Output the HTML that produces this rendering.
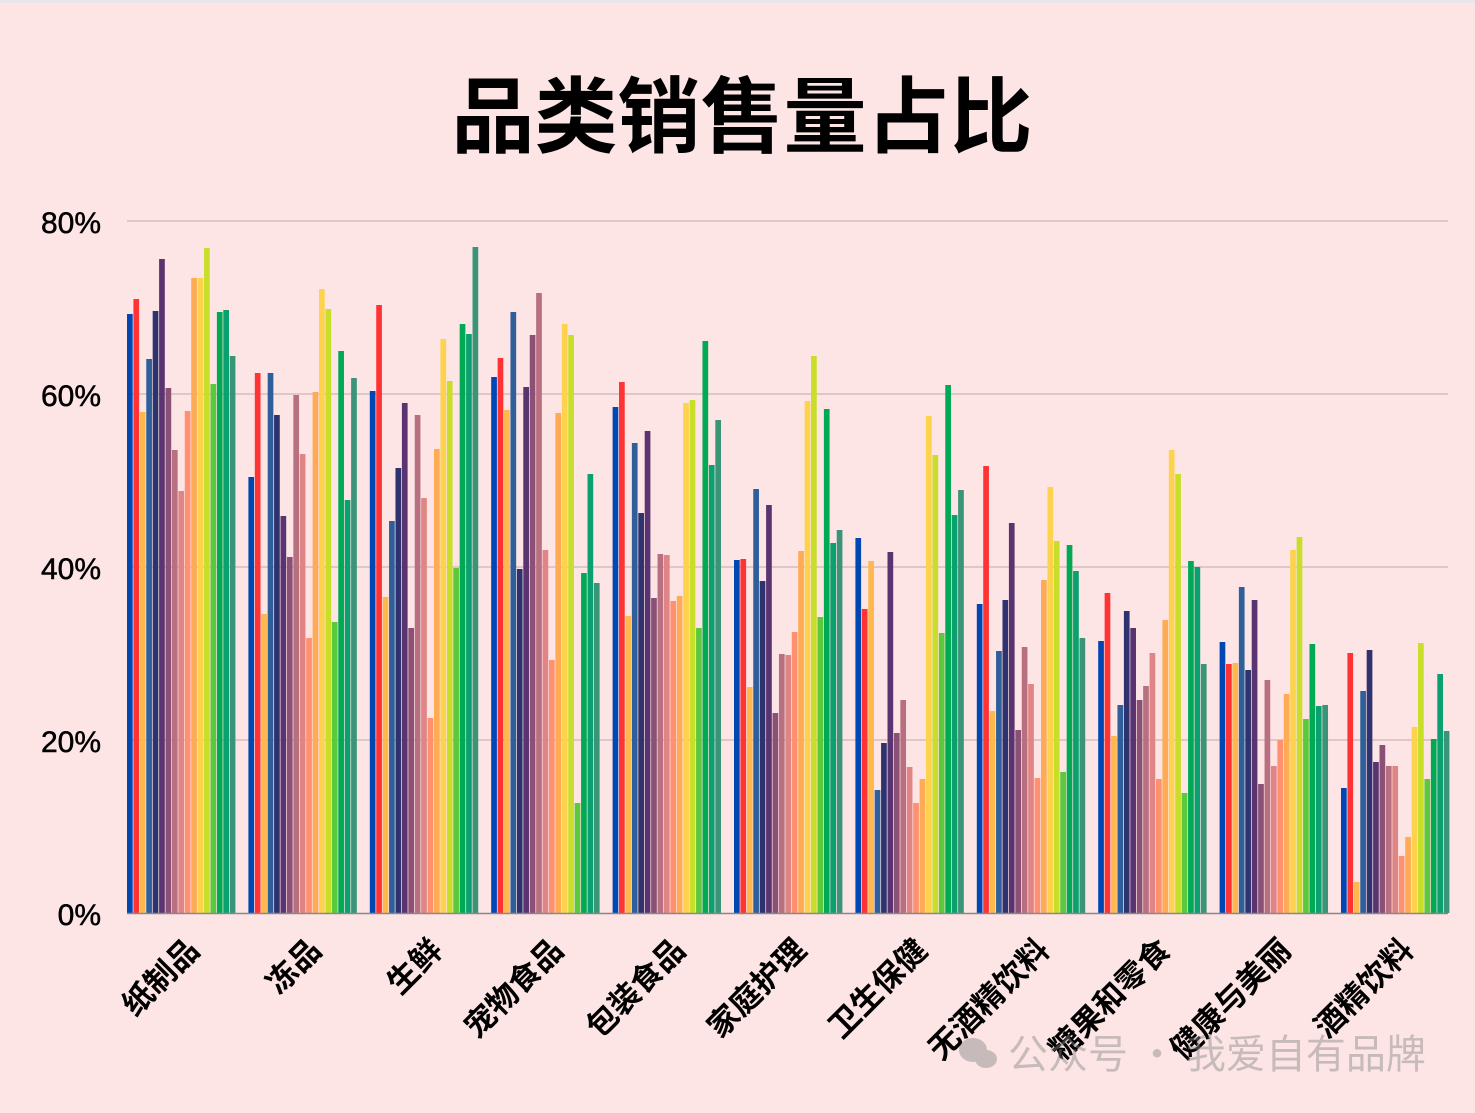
<!DOCTYPE html>
<html><head><meta charset="utf-8"><style>
html,body{margin:0;padding:0;background:#fde5e5;}
svg{display:block;}
text{font-family:"Liberation Sans","Noto Sans CJK SC",sans-serif;}
</style></head><body>
<svg id="c" width="1475" height="1113" xmlns="http://www.w3.org/2000/svg">
<rect x="0" y="0" width="1475" height="1113" fill="#fde5e5"/>
<rect x="0" y="0" width="1475" height="3" fill="#e8e4ea"/>
<text x="742" y="146" text-anchor="middle" font-size="83" font-weight="bold" fill="#000" style="font-family:'Noto Sans CJK SC',sans-serif">品类销售量占比</text>
<g stroke="#c9b8b8" stroke-width="1.2">
<line x1="127" y1="221" x2="1448" y2="221"/>
<line x1="127" y1="394" x2="1448" y2="394"/>
<line x1="127" y1="567" x2="1448" y2="567"/>
<line x1="127" y1="740" x2="1448" y2="740"/>
</g>
<g font-size="30" fill="#000" text-anchor="end" stroke="#000" stroke-width="0.5">
<text x="101" y="233">80%</text>
<text x="101" y="406">60%</text>
<text x="101" y="579">40%</text>
<text x="101" y="752">20%</text>
<text x="101" y="925">0%</text>
</g>
<g id="bars"></g>
<line x1="127" y1="913.5" x2="1448" y2="913.5" stroke="#888" stroke-width="1.5"/>
<g font-size="31" font-weight="bold" fill="#000" text-anchor="end" style="font-family:'Noto Sans CJK SC',sans-serif">
<text transform="translate(201,952) rotate(-45)">纸制品</text>
<text transform="translate(323,952) rotate(-45)">冻品</text>
<text transform="translate(444,952) rotate(-45)">生鲜</text>
<text transform="translate(565,952) rotate(-45)">宠物食品</text>
<text transform="translate(687,952) rotate(-45)">包装食品</text>
<text transform="translate(808,952) rotate(-45)">家庭护理</text>
<text transform="translate(929,952) rotate(-45)">卫生保健</text>
<text transform="translate(1051,952) rotate(-45)">无酒精饮料</text>
<text transform="translate(1172,952) rotate(-45)">糖果和零食</text>
<text transform="translate(1293,952) rotate(-45)">健康与美丽</text>
<text transform="translate(1415,952) rotate(-45)">酒精饮料</text>
</g>
<g opacity="0.45" fill="#888">
<ellipse cx="973" cy="1050" rx="14" ry="12"/>
<ellipse cx="986" cy="1059" rx="11" ry="9"/>
<text x="1008" y="1068" font-size="40" style="font-family:'Noto Sans CJK SC',sans-serif">公众号 · 我爱自有品牌</text>
</g>
</svg>
<script>
var cols=["#0047b3","#ff3333","#ffb84d","#2e5f9a","#2e3370","#5a3470","#8a5075","#b87080","#e08585","#ff9070","#ffaa55","#ffd24d","#c8de28","#5cc83c","#00aa55","#0aa070","#3a9478"];
var tops=[
[314,299,412,359,311,259,388,450,491,411,278,278,248,384,312,310,356],
[477,373,614,373,415,516,557,395,454,638,392,289,309,622,351,500,378],
[391,305,597,521,468,403,628,415,498,718,449,339,381,568,324,334,247],
[377,358,410,312,569,387,335,293,550,660,413,324,335,803,573,474,583],
[407,382,616,443,513,431,598,554,555,601,596,403,400,628,341,465,420],
[560,559,687,489,581,505,713,654,655,632,551,401,356,617,409,543,530],
[538,609,561,790,743,552,733,700,767,803,779,416,455,633,385,515,490],
[604,466,711,651,600,523,730,647,684,778,580,487,541,772,545,571,638],
[641,593,736,705,611,628,700,686,653,779,620,450,474,793,561,567,664],
[642,664,663,587,670,600,784,680,766,740,694,550,537,719,644,706,705],
[788,653,882,691,650,762,745,766,766,856,837,727,643,779,739,674,731]];
var g=document.getElementById("bars"),s="";
for(var i=0;i<11;i++){var x0=127+i*121.4;for(var j=0;j<17;j++){var x=x0+j*6.42,t=tops[i][j];
s+='<rect x="'+x.toFixed(2)+'" y="'+t+'" width="5.7" height="'+(913-t)+'" fill="'+cols[j]+'"/>';}}
g.innerHTML=s;
</script>
</body></html>
